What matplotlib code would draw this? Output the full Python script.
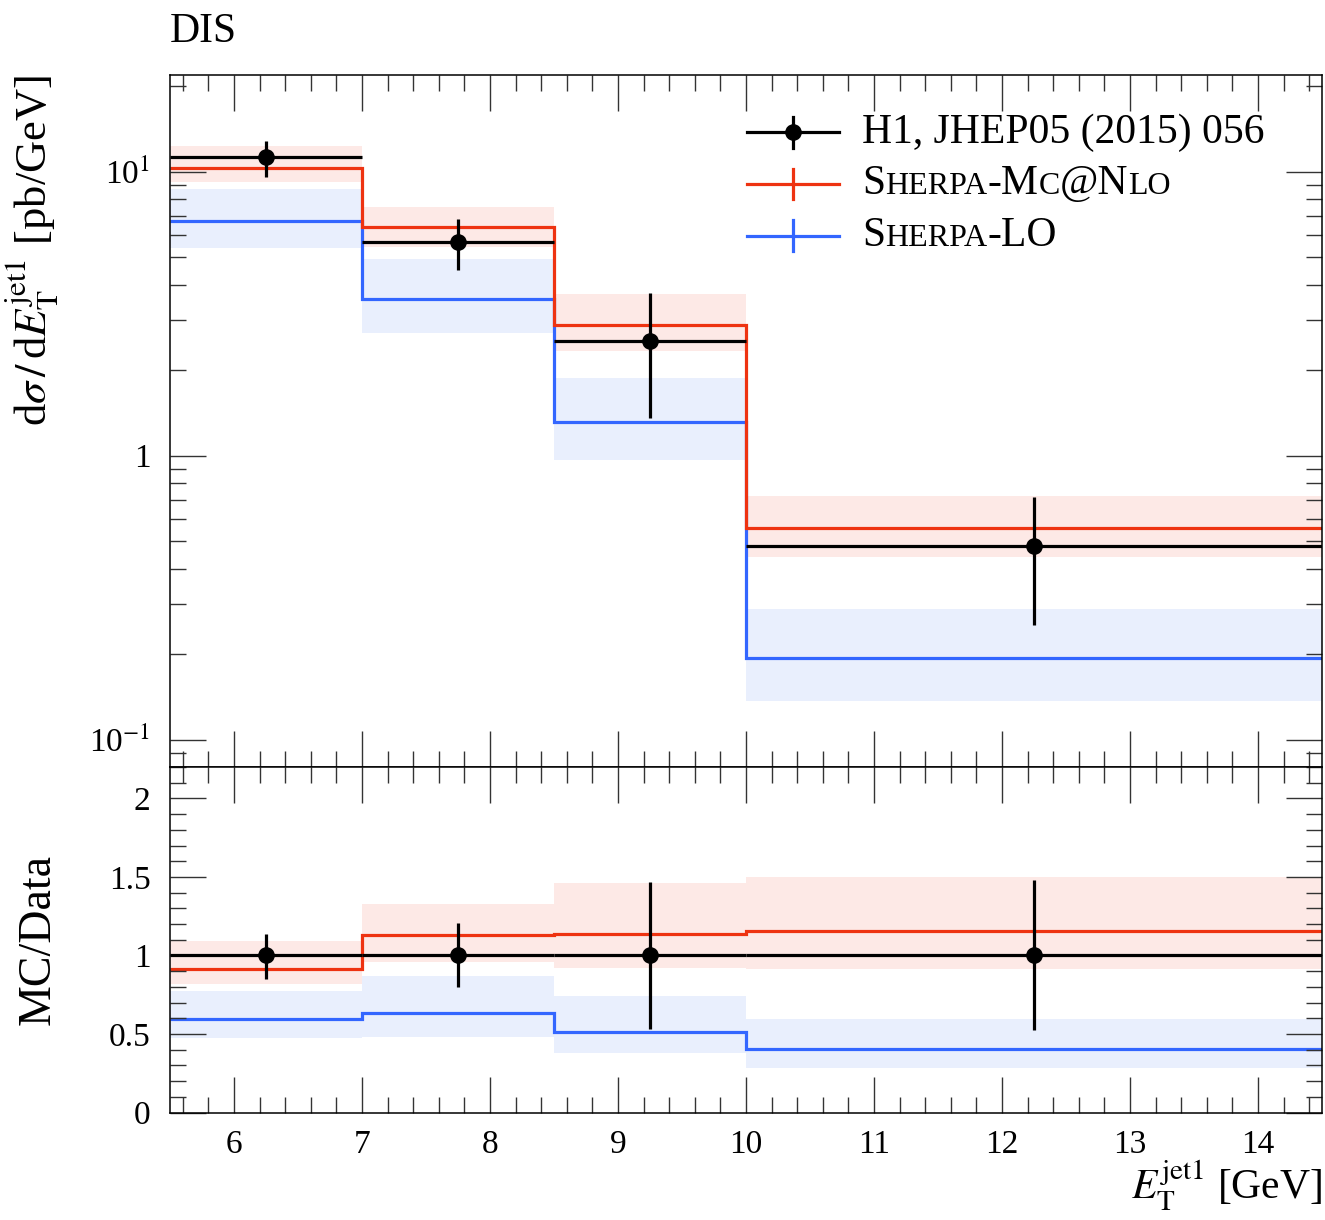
import numpy as np
import matplotlib
matplotlib.use("Agg")
import matplotlib.pyplot as plt
from matplotlib.ticker import (AutoMinorLocator, MultipleLocator, LogLocator,
                               NullFormatter, FuncFormatter, FixedLocator)
from matplotlib.offsetbox import TextArea, HPacker, VPacker, DrawingArea, AnchoredOffsetbox
from matplotlib.lines import Line2D

plt.rcParams['font.family'] = ['Liberation Serif', 'DejaVu Serif']
plt.rcParams['mathtext.fontset'] = 'stix'

# bin edges in E_T^jet1 [GeV]
edges = [5.5, 7.0, 8.5, 10.0, 14.5]

# H1 data, dsigma/dE_T [pb/GeV] with upper / lower error edges
data_val = [11.25, 5.63, 2.54, 0.482]
data_up = [12.77, 6.79, 3.73, 0.714]
data_dn = [9.59, 4.49, 1.354, 0.2536]

# Sherpa MC@NLO
nlo_val = [10.31, 6.36, 2.88, 0.558]
nlo_up = [12.29, 7.48, 3.71, 0.723]
nlo_dn = [9.19, 5.41, 2.34, 0.439]

# Sherpa LO
lo_val = [6.71, 3.57, 1.31, 0.1936]
lo_up = [8.68, 4.91, 1.88, 0.288]
lo_dn = [5.37, 2.71, 0.966, 0.1374]

red = '#EE3311'
blue = '#3366FF'
red_band = '#FDE9E6'
blue_band = '#E9EFFD'

edges = np.array(edges)
centers = 0.5 * (edges[1:] + edges[:-1])
halfw = 0.5 * (edges[1:] - edges[:-1])
d = np.array(data_val)

fig = plt.figure(figsize=(13.25, 12.2), dpi=100)
ax = fig.add_axes([0.1283, 0.3713, 0.8694, 0.5672])
rax = fig.add_axes([0.1283, 0.0881, 0.8694, 0.2832], sharex=ax)

# --- main panel
ax.stairs(nlo_up, edges, baseline=nlo_dn, fill=True, color=red_band, lw=0)
ax.stairs(lo_up, edges, baseline=lo_dn, fill=True, color=blue_band, lw=0)
ax.stairs(lo_val, edges, baseline=None, color=blue, lw=2.3)
ax.stairs(nlo_val, edges, baseline=None, color=red, lw=2.3)
ax.errorbar(centers, d, xerr=halfw,
            yerr=[d - np.array(data_dn), np.array(data_up) - d],
            fmt='o', color='k', ms=11, lw=2.3, capsize=0, zorder=5)

ax.set_yscale('log')
ax.set_xlim(5.5, 14.5)
ax.set_ylim(0.0803, 21.86)
ax.yaxis.set_major_locator(FixedLocator([0.1, 1, 10]))
ax.set_yticklabels(['10$^{-1}$', '1', '10$^{1}$'])
ax.yaxis.set_minor_locator(LogLocator(base=10, subs=np.arange(2, 10)))
ax.yaxis.set_minor_formatter(NullFormatter())
ax.set_title('DIS', loc='left', fontsize=30, pad=24)
ax.set_ylabel(r'd$\sigma\,/\,$d$E_\mathrm{T}^\mathrm{jet1}$ [pb/GeV]', fontsize=32, loc='top')
ax.yaxis.set_label_coords(-0.095, 1.0)

# --- ratio panel
rax.stairs(np.array(nlo_up) / d, edges, baseline=np.array(nlo_dn) / d, fill=True, color=red_band, lw=0)
rax.stairs(np.array(lo_up) / d, edges, baseline=np.array(lo_dn) / d, fill=True, color=blue_band, lw=0)
rax.stairs(np.array(lo_val) / d, edges, baseline=None, color=blue, lw=2.3)
rax.stairs(np.array(nlo_val) / d, edges, baseline=None, color=red, lw=2.3)
ones = d / d
rax.errorbar(centers, ones, xerr=halfw,
             yerr=[ones - np.array(data_dn) / d, np.array(data_up) / d - ones],
             fmt='o', color='k', ms=11, lw=2.3, capsize=0, zorder=5)
rax.set_ylim(0, 2.2)
rax.yaxis.set_major_locator(MultipleLocator(0.5))
rax.yaxis.set_minor_locator(MultipleLocator(0.1))
rax.yaxis.set_major_formatter(FuncFormatter(lambda v, p: '%g' % v))
rax.xaxis.set_major_locator(MultipleLocator(1))
rax.xaxis.set_minor_locator(AutoMinorLocator(5))
rax.set_ylabel('MC/Data', fontsize=33)
rax.yaxis.set_label_coords(-0.096, 0.5)
rax.set_xlabel(r'$E_\mathrm{T}^\mathrm{jet1}$ [GeV]', fontsize=30, loc='right')
rax.xaxis.set_label_coords(1.0, -0.135)

for a in (ax, rax):
    a.tick_params(which='both', direction='in', top=True, right=True, width=1.0,
                  color='#333333', labelsize=24)
    a.tick_params(which='major', length=26)
    a.tick_params(which='minor', length=11.5)
    a.tick_params(axis='y', pad=14)
    a.tick_params(axis='x', pad=12)
    for s in a.spines.values():
        s.set_linewidth(1.1)
ax.tick_params(labelbottom=False)

# --- legend with small caps
def legend_row(color, marker, parts):
    da = DrawingArea(66, 24, 0, 0)
    da.add_artist(Line2D([0, 66], [12, 12], color=color, lw=2.3))
    da.add_artist(Line2D([33, 33], [1, 23], color=color, lw=2.3))
    if marker:
        da.add_artist(Line2D([33], [12], marker='o', ms=11, color=color))
    texts = [TextArea(s, textprops=dict(fontsize=fs)) for s, fs in parts]
    tp = HPacker(children=texts, align='baseline', pad=0, sep=0)
    return HPacker(children=[da, tp], align='center', pad=0, sep=17)

big, small = 30, 23
rows = [
    legend_row('k', True, [('H1, JHEP05 (2015) 056', big)]),
    legend_row(red, False, [('S', big), ('HERPA', small), ('-M', big), ('C', small),
                            ('@N', big), ('LO', small)]),
    legend_row(blue, False, [('S', big), ('HERPA', small), ('-LO', big)]),
]
vp = VPacker(children=rows, align='left', pad=0, sep=9.5)
box = AnchoredOffsetbox(loc='upper left', child=vp, bbox_to_anchor=(0.5009, 0.945),
                        bbox_transform=ax.transAxes, frameon=False, pad=0, borderpad=0)
ax.add_artist(box)

fig.savefig('out.png', dpi=100)
